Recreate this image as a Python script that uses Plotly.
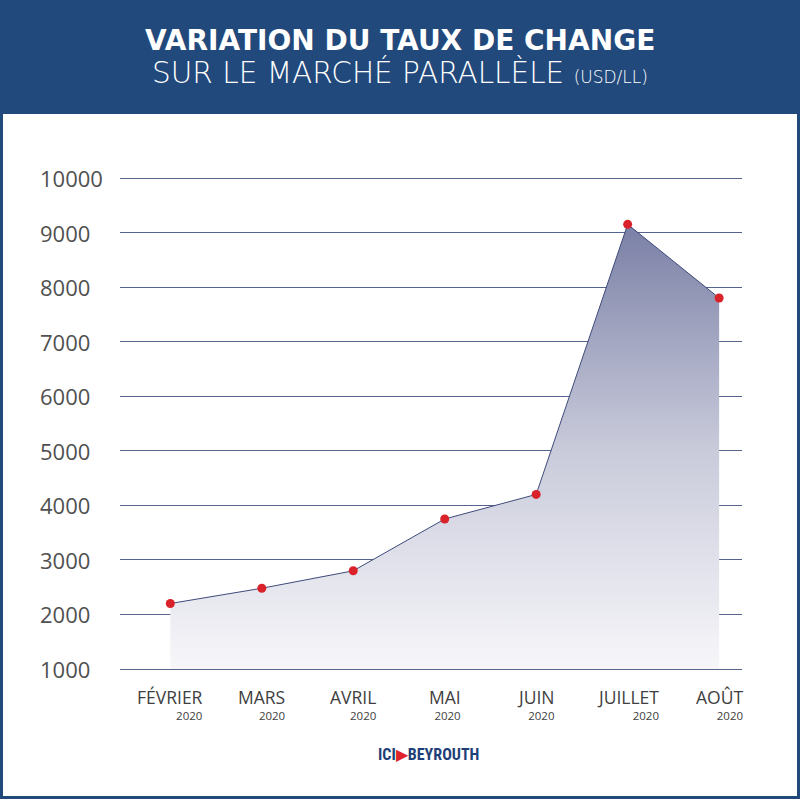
import plotly.graph_objects as go

months = ["FÉVRIER", "MARS", "AVRIL", "MAI", "JUIN", "JUILLET", "AOÛT"]
years = ["2020"] * 7
rates = [2200, 2480, 2800, 3750, 4200, 9150, 7800]
yticks = [1000, 2000, 3000, 4000, 5000, 6000, 7000, 8000, 9000, 10000]

W, H = 800, 799
ML, MR, MT, MB = 120, 58, 175, 127
PW = W - ML - MR
PH = H - MT - MB

def px2x(px):
    return (px - ML) / PW

def py2y(py):
    return (H - MB - py) / PH

BLUE = "#22497b"
FONT = "Open Sans"
WIDE = "DejaVu Sans"

xs = list(range(len(months)))

fig = go.Figure()
fig.add_trace(go.Scatter(x=xs, y=[yticks[0]] * len(xs), mode="lines",
                         line=dict(width=0), hoverinfo="skip", showlegend=False))
fig.add_trace(go.Scatter(
    x=xs, y=rates, mode="lines+markers", fill="tonexty",
    fillgradient=dict(type="vertical", start=1000, stop=9150,
                      colorscale=[[0, "#f7f7fa"], [0.5, "#c8cada"], [1, "#7a80a6"]]),
    line=dict(color="#3e4a7a", width=1),
    marker=dict(color="#d9222a", size=9),
    showlegend=False))

annotations = []
for v in yticks:
    annotations.append(dict(x=px2x(38), y=v, xref="paper", yref="y", text=str(v),
                            showarrow=False, xanchor="left", yanchor="middle",
                            font=dict(family=FONT, size=22, color="#505050")))
for i, (m, yr) in enumerate(zip(months, years)):
    annotations.append(dict(
        x=i, y=py2y(683), xref="x", yref="paper",
        text=f"<span style='font-size:17.5px'>{m}</span><br><span style='font-size:11.5px'>{yr}</span>",
        showarrow=False, xanchor="center", yanchor="top", align="right",
        font=dict(family=FONT, size=12, color="#404040")))

annotations.append(dict(x=px2x(400), y=py2y(40), xref="paper", yref="paper",
                        text="VARIATION DU TAUX DE CHANGE", showarrow=False,
                        xanchor="center", yanchor="middle",
                        font=dict(family=WIDE, size=28, color="white", weight="bold")))
annotations.append(dict(x=px2x(400), y=py2y(72), xref="paper", yref="paper",
                        text="SUR LE MARCHÉ PARALLÈLE <span style='font-size:17px'>(USD/LL)</span>",
                        showarrow=False, xanchor="center", yanchor="middle",
                        font=dict(family=WIDE, size=29.5, color="white", weight=200)))
annotations.append(dict(x=px2x(428), y=py2y(754), xref="paper", yref="paper",
                        text="<b>ICI</b><span style='color:#e0222a'>▶</span><b>BEYROUTH</b>",
                        showarrow=False, xanchor="center", yanchor="middle",
                        font=dict(family="Roboto Condensed, Roboto", size=16, color="#1f3f78")))

shapes = [dict(type="rect", xref="paper", yref="paper", layer="below",
               x0=px2x(3), x1=px2x(797), y0=py2y(796), y1=py2y(114),
               fillcolor="white", line=dict(width=0))]

fig.update_layout(
    width=W, height=H,
    margin=dict(l=ML, r=MR, t=MT, b=MB),
    paper_bgcolor=BLUE, plot_bgcolor="rgba(0,0,0,0)",
    xaxis=dict(range=[-0.55, 6.25], showgrid=False, zeroline=False,
               showticklabels=False, showline=False, fixedrange=True),
    yaxis=dict(range=[945, 10055], tickvals=yticks, showticklabels=False,
               gridcolor="#56638e", gridwidth=1, zeroline=False, showline=False),
    annotations=annotations, shapes=shapes, showlegend=False,
)

fig.write_html("out.html", config={"displayModeBar": False},
               post_script="document.body.style.margin='0';")
